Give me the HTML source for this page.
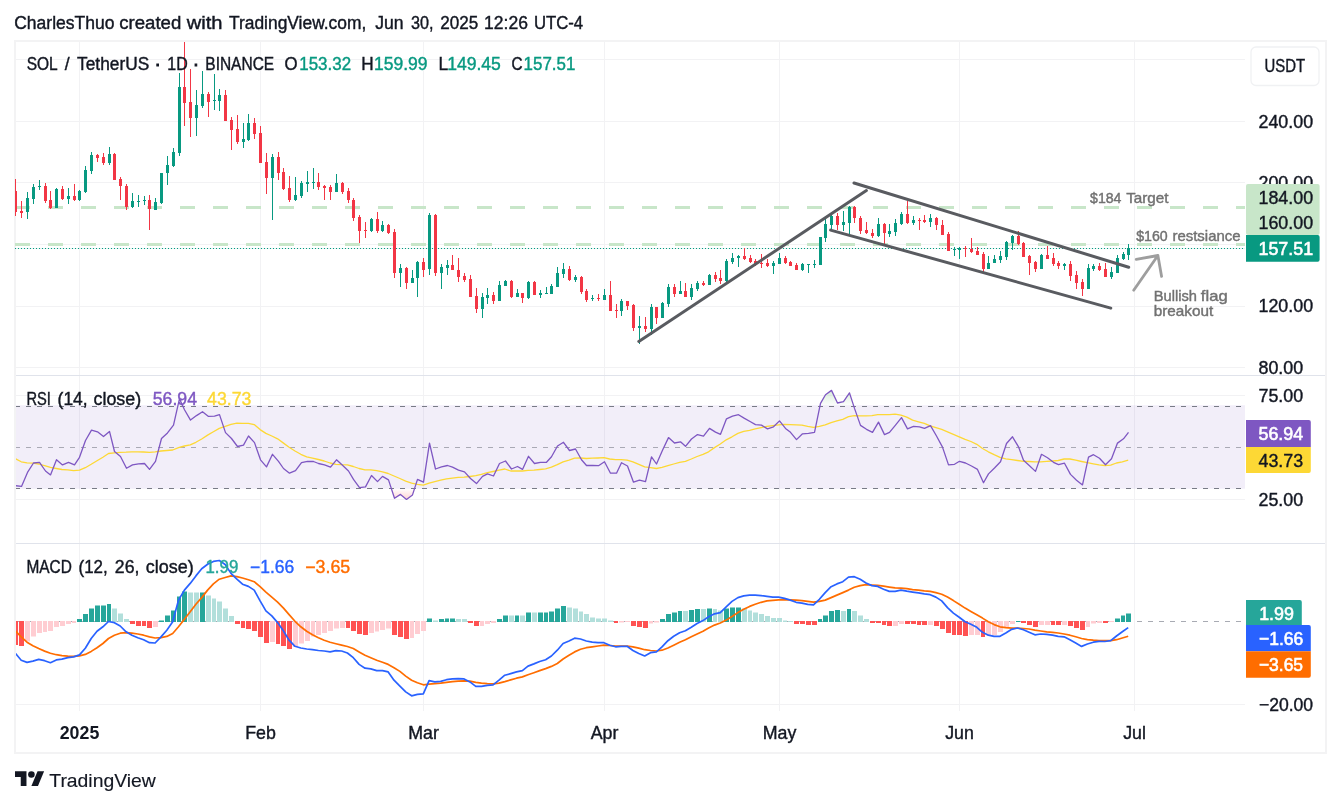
<!DOCTYPE html>
<html lang="en"><head><meta charset="utf-8"><title>SOL / TetherUS chart</title>
<style>html,body{margin:0;padding:0;background:#fff}body{width:1341px;height:806px;overflow:hidden}svg{display:block}</style>
</head><body>
<svg width="1341" height="806" viewBox="0 0 1341 806" font-family='"Liberation Sans", "DejaVu Sans", sans-serif'>
<defs><clipPath id="cm"><rect x="15" y="42" width="1230" height="333"/></clipPath><clipPath id="cr"><rect x="16" y="376" width="1229" height="167"/></clipPath><clipPath id="cd"><rect x="16" y="544" width="1229" height="167"/></clipPath><clipPath id="c200"><rect x="1246" y="170" width="79" height="14"/></clipPath><linearGradient id="gob" x1="0" y1="0" x2="0" y2="1"><stop offset="0" stop-color="#4caf50" stop-opacity="0.22"/><stop offset="1" stop-color="#4caf50" stop-opacity="0"/></linearGradient><linearGradient id="gos" x1="0" y1="0" x2="0" y2="1"><stop offset="0" stop-color="#ff5252" stop-opacity="0"/><stop offset="1" stop-color="#ff5252" stop-opacity="0.25"/></linearGradient></defs>
<rect width="1341" height="806" fill="#fff"/>
<rect x="15" y="41" width="1311" height="712" fill="none" stroke="#f3f3f4" stroke-width="2"/>
<path d="M79.5 42V711 M260.5 42V711 M423.5 42V711 M604.5 42V711 M779.5 42V711 M959.5 42V711 M1134.5 42V711 M16 59.5H1245 M16 121.5H1245 M16 182.5H1245 M16 244.5H1245 M16 306.5H1245 M16 367.5H1245 M16 395.5H1245 M16 499.5H1245 M16 704.5H1245" stroke="#f2f2f4" stroke-width="1" fill="none"/>
<path d="M16 375.5H1325M16 543.5H1325" stroke="#e0e3eb" stroke-width="1" fill="none"/>
<g clip-path="url(#cm)">
<path d="M15 207.5H1245" stroke="#c8e6c9" stroke-width="3" stroke-dasharray="15 18" fill="none"/>
<path d="M15 244.5H1245" stroke="#c8e6c9" stroke-width="3" stroke-dasharray="15 18" fill="none"/>
<path d="M14.9 248.5H1245" stroke="#089981" stroke-width="1.15" stroke-dasharray="1.2 1.8" fill="none"/>
<path d="M27 192h1V219h-1zM33 184h1V204h-1zM39 180h1V190h-1zM56 188h1V208h-1zM68 188h1V204h-1zM79 190h1V201h-1zM85 166h1V193h-1zM91 152h1V174h-1zM109 147h1V165h-1zM132 193h1V208h-1zM138 195h1V207h-1zM144 196h1V205h-1zM155 198h1V210h-1zM161 173h1V204h-1zM167 156h1V185h-1zM173 148h1V167h-1zM179 73h1V156h-1zM196 90h1V136h-1zM202 71h1V108h-1zM214 74h1V110h-1zM219 89h1V111h-1zM243 123h1V148h-1zM248 114h1V141h-1zM272 154h1V220h-1zM295 177h1V201h-1zM301 181h1V198h-1zM307 171h1V192h-1zM313 168h1V189h-1zM336 174h1V192h-1zM371 218h1V232h-1zM382 221h1V232h-1zM400 264h1V287h-1zM412 270h1V283h-1zM417 261h1V297h-1zM429 213h1V275h-1zM441 264h1V289h-1zM447 260h1V275h-1zM482 293h1V318h-1zM487 288h1V304h-1zM499 281h1V301h-1zM505 280h1V286h-1zM517 289h1V297h-1zM528 281h1V299h-1zM540 290h1V298h-1zM546 287h1V294h-1zM551 284h1V294h-1zM557 267h1V287h-1zM563 263h1V278h-1zM575 275h1V282h-1zM592 295h1V301h-1zM604 289h1V300h-1zM621 299h1V316h-1zM639 316h1V344h-1zM651 304h1V335h-1zM662 302h1V318h-1zM668 284h1V307h-1zM680 281h1V294h-1zM691 284h1V300h-1zM697 281h1V291h-1zM709 274h1V285h-1zM726 259h1V283h-1zM732 253h1V264h-1zM738 255h1V267h-1zM773 261h1V274h-1zM779 253h1V264h-1zM802 263h1V271h-1zM808 264h1V273h-1zM814 260h1V268h-1zM820 237h1V265h-1zM825 219h1V242h-1zM831 215h1V230h-1zM843 211h1V231h-1zM849 206h1V234h-1zM878 218h1V237h-1zM889 224h1V237h-1zM895 219h1V236h-1zM901 212h1V225h-1zM913 216h1V225h-1zM930 214h1V227h-1zM954 247h1V256h-1zM959 247h1V259h-1zM988 256h1V269h-1zM994 255h1V263h-1zM1000 251h1V263h-1zM1006 241h1V260h-1zM1012 235h1V250h-1zM1041 254h1V269h-1zM1064 263h1V270h-1zM1088 264h1V289h-1zM1093 264h1V271h-1zM1111 267h1V279h-1zM1117 255h1V273h-1zM1123 252h1V260h-1zM1128 244h1V260h-1zM26 198h3V212h-3zM32 187h3V199h-3zM38 186h3V187h-3zM55 189h3V208h-3zM67 196h3V199h-3zM78 191h3V200h-3zM84 170h3V192h-3zM90 155h3V171h-3zM108 154h3V163h-3zM131 201h3V207h-3zM137 201h3V202h-3zM143 200h3V201h-3zM154 202h3V210h-3zM160 173h3V203h-3zM166 165h3V173h-3zM172 152h3V166h-3zM178 87h3V153h-3zM195 105h3V118h-3zM201 94h3V106h-3zM213 100h3V101h-3zM218 95h3V101h-3zM242 139h3V142h-3zM247 123h3V140h-3zM271 157h3V178h-3zM294 195h3V200h-3zM300 183h3V196h-3zM306 182h3V184h-3zM312 182h3V183h-3zM335 183h3V192h-3zM370 219h3V231h-3zM381 225h3V231h-3zM399 268h3V273h-3zM411 278h3V283h-3zM416 262h3V278h-3zM428 215h3V269h-3zM440 267h3V273h-3zM446 265h3V268h-3zM481 297h3V309h-3zM486 295h3V298h-3zM498 285h3V301h-3zM504 281h3V286h-3zM516 293h3V297h-3zM527 282h3V298h-3zM539 293h3V295h-3zM545 293h3V294h-3zM550 286h3V294h-3zM556 273h3V287h-3zM562 269h3V274h-3zM574 277h3V280h-3zM591 298h3V299h-3zM603 295h3V300h-3zM620 301h3V311h-3zM638 326h3V328h-3zM650 307h3V329h-3zM661 303h3V318h-3zM667 287h3V304h-3zM679 291h3V294h-3zM690 288h3V297h-3zM696 283h3V289h-3zM708 275h3V285h-3zM725 261h3V281h-3zM731 258h3V262h-3zM737 256h3V258h-3zM772 263h3V266h-3zM778 258h3V264h-3zM801 264h3V270h-3zM807 264h3V265h-3zM813 264h3V265h-3zM819 237h3V265h-3zM824 224h3V238h-3zM830 216h3V225h-3zM842 222h3V225h-3zM848 207h3V223h-3zM877 224h3V236h-3zM888 231h3V234h-3zM894 223h3V232h-3zM900 214h3V224h-3zM912 220h3V223h-3zM929 218h3V222h-3zM953 249h3V250h-3zM958 248h3V250h-3zM987 263h3V269h-3zM993 259h3V263h-3zM999 256h3V260h-3zM1005 242h3V257h-3zM1011 236h3V243h-3zM1040 255h3V269h-3zM1063 264h3V266h-3zM1087 268h3V289h-3zM1092 266h3V269h-3zM1110 272h3V277h-3zM1116 258h3V273h-3zM1122 254h3V259h-3zM1127 248h3V255h-3z" fill="#089981"/>
<path d="M15 179h1V216h-1zM21 201h1V218h-1zM45 183h1V203h-1zM50 191h1V209h-1zM62 186h1V200h-1zM74 184h1V201h-1zM97 154h1V162h-1zM103 153h1V165h-1zM114 153h1V180h-1zM120 177h1V200h-1zM126 184h1V210h-1zM149 195h1V230h-1zM184 34h1V126h-1zM190 69h1V137h-1zM208 92h1V117h-1zM225 90h1V121h-1zM231 117h1V150h-1zM237 115h1V144h-1zM254 118h1V139h-1zM260 126h1V163h-1zM266 153h1V194h-1zM278 152h1V180h-1zM283 168h1V190h-1zM289 176h1V202h-1zM318 173h1V190h-1zM324 185h1V200h-1zM330 185h1V200h-1zM342 182h1V194h-1zM348 188h1V203h-1zM353 198h1V221h-1zM359 215h1V243h-1zM365 222h1V238h-1zM377 212h1V233h-1zM388 224h1V234h-1zM394 229h1V278h-1zM406 267h1V289h-1zM423 258h1V277h-1zM435 214h1V276h-1zM452 255h1V270h-1zM458 258h1V282h-1zM464 273h1V282h-1zM470 275h1V297h-1zM476 288h1V313h-1zM493 292h1V304h-1zM511 280h1V298h-1zM522 293h1V303h-1zM534 281h1V295h-1zM569 266h1V281h-1zM581 276h1V294h-1zM586 289h1V302h-1zM598 294h1V301h-1zM610 281h1V311h-1zM616 304h1V318h-1zM627 301h1V310h-1zM633 304h1V331h-1zM645 317h1V332h-1zM656 307h1V324h-1zM674 284h1V297h-1zM685 283h1V297h-1zM703 281h1V286h-1zM715 272h1V282h-1zM720 270h1V284h-1zM744 248h1V260h-1zM750 255h1V263h-1zM755 259h1V266h-1zM761 254h1V268h-1zM767 259h1V267h-1zM785 256h1V264h-1zM790 261h1V266h-1zM796 263h1V270h-1zM837 213h1V230h-1zM854 206h1V223h-1zM860 216h1V234h-1zM866 222h1V234h-1zM872 229h1V238h-1zM884 223h1V245h-1zM907 201h1V224h-1zM919 218h1V230h-1zM924 215h1V223h-1zM936 217h1V230h-1zM942 220h1V235h-1zM948 232h1V251h-1zM965 246h1V257h-1zM971 238h1V253h-1zM977 247h1V255h-1zM983 252h1V272h-1zM1018 231h1V245h-1zM1023 242h1V257h-1zM1029 255h1V275h-1zM1035 261h1V272h-1zM1047 246h1V259h-1zM1053 253h1V266h-1zM1058 261h1V269h-1zM1070 261h1V281h-1zM1076 271h1V289h-1zM1082 279h1V296h-1zM1099 263h1V271h-1zM1105 263h1V277h-1zM14 191h3V212h-3zM20 211h3V213h-3zM44 186h3V201h-3zM49 200h3V208h-3zM61 189h3V199h-3zM73 196h3V200h-3zM96 155h3V158h-3zM102 157h3V163h-3zM113 154h3V180h-3zM119 179h3V186h-3zM125 186h3V207h-3zM148 200h3V209h-3zM183 87h3V103h-3zM189 102h3V118h-3zM207 94h3V102h-3zM224 95h3V121h-3zM230 120h3V130h-3zM236 129h3V142h-3zM253 123h3V134h-3zM259 133h3V163h-3zM265 162h3V178h-3zM277 157h3V173h-3zM282 172h3V189h-3zM288 188h3V200h-3zM317 182h3V187h-3zM323 186h3V188h-3zM329 187h3V192h-3zM341 183h3V192h-3zM347 191h3V200h-3zM352 200h3V218h-3zM358 217h3V231h-3zM364 230h3V231h-3zM376 219h3V231h-3zM387 225h3V233h-3zM393 232h3V273h-3zM405 268h3V283h-3zM422 262h3V270h-3zM434 215h3V273h-3zM451 265h3V270h-3zM457 270h3V277h-3zM463 276h3V280h-3zM469 279h3V297h-3zM475 296h3V309h-3zM492 295h3V301h-3zM510 281h3V297h-3zM521 293h3V298h-3zM533 282h3V295h-3zM568 269h3V280h-3zM580 277h3V292h-3zM585 291h3V300h-3zM597 298h3V299h-3zM609 295h3V311h-3zM615 310h3V311h-3zM626 301h3V306h-3zM632 305h3V328h-3zM644 326h3V329h-3zM655 307h3V318h-3zM673 287h3V294h-3zM684 291h3V297h-3zM702 283h3V285h-3zM714 275h3V279h-3zM719 278h3V281h-3zM743 256h3V259h-3zM749 258h3V262h-3zM754 261h3V265h-3zM760 263h3V264h-3zM766 263h3V266h-3zM784 258h3V263h-3zM789 262h3V266h-3zM795 265h3V270h-3zM836 216h3V225h-3zM853 207h3V218h-3zM859 218h3V231h-3zM865 230h3V233h-3zM871 233h3V236h-3zM883 224h3V233h-3zM906 214h3V223h-3zM918 220h3V221h-3zM923 220h3V222h-3zM935 218h3V225h-3zM941 225h3V235h-3zM947 234h3V251h-3zM964 248h3V249h-3zM970 249h3V252h-3zM976 251h3V255h-3zM982 254h3V269h-3zM1017 236h3V244h-3zM1022 243h3V257h-3zM1028 256h3V263h-3zM1034 262h3V269h-3zM1046 255h3V259h-3zM1052 258h3V264h-3zM1057 263h3V266h-3zM1069 264h3V276h-3zM1075 275h3V283h-3zM1081 282h3V289h-3zM1098 266h3V270h-3zM1104 269h3V277h-3z" fill="#f23645"/>
<path d="M638.8 341.4L866.4 190.6M854 183L1128.7 267.2M830.6 230.1L1110.8 308.1" stroke="#595b60" stroke-width="3" stroke-linecap="round" fill="none"/>
<path d="M1133.7 290.2L1157.9 255.5M1136.2 259.3L1157.9 255.5L1161.6 276.4" stroke="#9e9e9e" stroke-width="2.8" stroke-linecap="round" stroke-linejoin="round" fill="none"/>
</g>
<g clip-path="url(#cr)">
<rect x="16" y="405.2" width="1229" height="83.6" fill="#7e57c2" fill-opacity="0.1"/>
<path d="M15 406.5H1245M15 488.5H1245" stroke="#787b86" stroke-width="1" stroke-dasharray="5 6" fill="none"/>
<path d="M15 447.5H1245" stroke="#787b86" stroke-opacity="0.6" stroke-width="1" stroke-dasharray="5 6" fill="none"/>
<path d="M177.7 406.5L179.5 398.7L183.0 406.5z" fill="url(#gob)"/>
<path d="M819.9 406.5L820.5 403.4L825.5 394.7L831.5 390.4L837.5 403.0L843.5 401.7L849.5 392.9L853.9 406.5z" fill="url(#gob)"/>
<path d="M391.3 488.5L394.5 498.3L400.5 494.4L406.5 499.4L412.5 494.9L414.6 488.5z" fill="url(#gos)"/>
<path d="M15.3 458.5L21.2 461.8L27.0 462.8L32.9 463.2L38.7 464.0L44.6 465.7L50.4 467.4L56.3 468.5L61.9 469.5L67.8 469.9L73.6 470.7L79.5 470.2L85.3 467.7L91.2 464.3L97.0 460.7L102.9 457.2L108.5 453.5L114.4 452.8L120.2 452.3L126.1 452.2L131.9 451.8L137.8 451.8L143.6 452.0L149.5 452.3L155.1 451.8L161.0 451.0L166.8 450.5L172.7 450.0L178.5 447.6L184.4 446.0L190.2 444.8L195.9 442.3L201.7 439.0L207.6 435.1L213.4 431.8L219.3 428.4L225.2 426.4L231.0 424.3L236.9 423.1L242.5 423.4L248.4 423.4L254.2 424.6L260.1 429.6L265.9 433.4L271.8 436.0L277.6 438.8L283.5 443.1L289.1 447.3L295.0 451.0L300.8 454.3L306.7 456.8L312.5 458.2L318.4 459.5L324.2 461.0L330.1 463.0L335.9 464.3L341.6 464.7L347.4 464.9L353.3 466.5L359.1 468.5L365.0 469.9L370.8 469.9L376.7 470.7L382.5 471.9L388.2 473.5L394.0 476.0L399.9 478.5L405.7 481.1L411.6 483.1L417.4 484.4L423.3 485.2L429.1 483.2L434.8 481.6L440.7 480.2L446.5 478.9L452.4 478.2L458.2 477.4L464.1 477.2L469.9 476.5L475.8 475.7L481.4 474.4L487.3 472.7L493.1 471.5L499.0 470.2L504.8 469.0L510.7 471.0L516.5 471.0L522.4 471.0L528.0 470.4L533.9 470.2L539.7 469.5L545.6 468.9L551.4 467.2L557.3 464.7L563.1 461.8L569.0 460.2L574.6 458.2L580.5 458.0L586.3 458.5L592.2 458.2L598.0 458.0L603.9 457.7L609.7 459.0L615.6 459.7L621.2 459.7L627.1 460.2L632.9 461.8L638.8 464.3L644.7 466.9L650.5 467.7L656.4 468.5L662.0 467.4L667.9 465.7L673.7 464.0L679.6 462.3L685.4 461.3L691.3 459.0L697.1 456.5L703.0 454.3L708.6 451.8L714.5 447.6L720.3 444.0L726.2 439.8L732.0 436.8L737.9 433.4L743.7 431.4L749.6 430.4L755.2 428.9L761.1 427.6L766.9 426.4L772.8 425.6L778.6 424.8L784.5 424.3L790.3 424.6L796.2 424.8L801.9 425.1L807.7 426.4L813.5 427.3L819.4 426.4L825.2 424.8L831.1 422.6L836.9 420.9L842.8 419.3L848.5 416.7L854.3 415.6L860.2 415.9L866.0 415.9L871.9 415.7L877.7 414.7L883.6 414.7L889.3 414.7L895.1 414.2L900.9 415.1L906.8 417.1L912.6 420.1L918.5 421.8L924.3 423.4L930.2 425.9L935.9 427.6L941.7 429.3L947.5 431.8L953.4 434.3L959.2 436.8L965.1 439.3L970.9 441.5L976.8 444.3L982.5 448.5L988.3 451.8L994.1 454.7L1000.0 457.3L1005.8 458.8L1011.7 459.7L1017.5 460.5L1023.4 461.3L1029.1 461.5L1034.9 461.8L1040.8 461.8L1046.7 461.3L1052.5 461.0L1058.2 460.5L1064.1 459.0L1069.9 459.0L1075.7 460.2L1081.6 461.5L1087.4 462.7L1093.3 463.8L1099.0 464.9L1104.8 465.5L1110.7 465.2L1116.5 463.0L1122.3 461.8L1128.2 460.2" stroke="#fdd835" stroke-width="1.3" stroke-linejoin="round" fill="none"/>
<path d="M15.5 485.7L21.5 486.4L27.5 472.4L33.5 463.0L39.5 462.3L45.5 471.0L50.5 474.9L56.5 459.7L62.5 464.9L68.5 462.3L74.5 464.9L79.5 457.3L85.5 440.5L91.5 430.1L97.5 431.8L103.5 436.5L109.5 431.4L114.5 451.5L120.5 456.5L126.5 468.2L132.5 464.9L138.5 463.8L144.5 463.5L149.5 469.4L155.5 461.3L161.5 438.5L167.5 432.9L173.5 425.1L179.5 398.7L184.5 409.7L190.5 420.1L196.5 415.6L202.5 411.7L208.5 416.4L214.5 416.2L219.5 414.6L225.5 432.6L231.5 438.5L237.5 446.5L243.5 445.1L248.5 436.0L254.5 442.6L260.5 459.8L266.5 466.9L272.5 454.3L278.5 461.3L283.5 468.5L289.5 473.2L295.5 470.7L301.5 462.7L307.5 461.3L313.5 461.5L318.5 463.5L324.5 464.9L330.5 467.2L336.5 459.8L342.5 465.2L348.5 471.0L353.5 479.4L359.5 487.7L365.5 486.9L371.5 475.5L377.5 481.6L382.5 476.4L388.5 479.9L394.5 498.3L400.5 494.4L406.5 499.4L412.5 494.9L417.5 479.4L423.5 482.2L429.5 443.1L435.5 469.0L441.5 466.9L447.5 465.5L452.5 467.2L458.5 470.2L464.5 471.9L470.5 478.5L476.5 483.6L482.5 476.4L487.5 473.9L493.5 476.0L499.5 463.5L505.5 461.0L511.5 469.0L517.5 466.5L522.5 469.4L528.5 456.3L534.5 463.5L540.5 462.3L546.5 462.3L551.5 456.8L557.5 446.0L563.5 442.3L569.5 450.5L575.5 449.0L581.5 459.8L586.5 465.5L592.5 465.5L598.5 465.7L604.5 461.8L610.5 473.2L616.5 473.2L621.5 462.7L627.5 466.0L633.5 482.2L639.5 480.2L645.5 481.6L651.5 456.8L656.5 464.0L662.5 450.2L668.5 437.6L674.5 443.0L680.5 441.8L685.5 446.3L691.5 439.0L697.5 434.6L703.5 436.1L709.5 428.4L715.5 432.1L720.5 434.3L726.5 418.8L732.5 416.2L738.5 414.7L744.5 418.4L750.5 421.8L755.5 424.6L761.5 425.1L767.5 428.9L773.5 426.8L779.5 420.9L785.5 428.4L790.5 432.3L796.5 439.6L802.5 433.8L808.5 433.4L814.5 432.3L820.5 403.4L825.5 394.7L831.5 390.4L837.5 403.0L843.5 401.7L849.5 392.9L854.5 408.4L860.5 425.4L866.5 429.3L872.5 432.3L878.5 422.1L884.5 434.6L889.5 432.3L895.5 425.1L901.5 417.6L907.5 428.9L913.5 426.3L919.5 426.8L924.5 428.4L930.5 425.6L936.5 436.0L942.5 447.1L948.5 464.9L954.5 464.3L959.5 461.3L965.5 463.0L971.5 466.0L977.5 469.4L983.5 482.7L988.5 473.9L994.5 468.0L1000.5 461.8L1006.5 443.5L1012.5 436.8L1018.5 446.8L1023.5 460.2L1029.5 465.7L1035.5 471.4L1041.5 454.3L1047.5 457.7L1053.5 462.3L1058.5 464.7L1064.5 463.2L1070.5 474.4L1076.5 480.2L1082.5 484.9L1088.5 457.2L1093.5 454.7L1099.5 458.2L1105.5 464.7L1111.5 458.8L1117.5 443.1L1123.5 438.8L1128.5 432.3" stroke="#7e57c2" stroke-width="1.3" stroke-linejoin="round" fill="none"/>
</g>
<g clip-path="url(#cd)">
<path d="M15 621.5H1245" stroke="#a8abb3" stroke-width="1" stroke-dasharray="5 6" fill="none"/>
<path d="M77 619.0H82V622.0H77zM83 614.0H88V622.0H83zM89 608.5H94V622.0H89zM95 605.5H100V622.0H95zM101 605.5H106V622.0H101zM107 604.0H111V622.0H107zM159 620.5H164V622.0H159zM165 615.5H170V622.0H165zM171 610.5H176V622.0H171zM177 596.5H181V622.0H177zM182 591.5H187V622.0H182zM200 592.5H205V622.0H200zM427 618.5H432V622.0H427zM439 619.0H444V622.0H439zM445 618.5H449V622.0H445zM450 618.5H455V622.0H450zM497 619.0H502V622.0H497zM503 615.5H508V622.0H503zM515 615.5H519V622.0H515zM526 612.5H531V622.0H526zM538 612.5H543V622.0H538zM544 612.5H548V622.0H544zM549 611.5H554V622.0H549zM555 608.5H560V622.0H555zM561 606.0H566V622.0H561zM660 619.0H665V622.0H660zM666 614.0H671V622.0H666zM672 612.5H677V622.0H672zM678 611.0H682V622.0H678zM689 610.0H694V622.0H689zM695 609.0H700V622.0H695zM707 608.5H712V622.0H707zM724 608.5H729V622.0H724zM730 607.5H735V622.0H730zM736 607.5H741V622.0H736zM818 619.0H822V622.0H818zM823 615.5H828V622.0H823zM829 611.0H834V622.0H829zM835 610.0H840V622.0H835zM847 609.0H851V622.0H847zM1016 621.0H1020V622.0H1016zM1115 618.5H1120V622.0H1115zM1121 615.5H1125V622.0H1121zM1126 613.5H1131V622.0H1126z" fill="#26a69a"/>
<path d="M112 608.5H117V622.0H112zM118 613.5H123V622.0H118zM124 619.0H129V622.0H124zM188 592.5H193V622.0H188zM194 592.5H199V622.0H194zM206 595.5H211V622.0H206zM212 598.5H216V622.0H212zM217 601.5H222V622.0H217zM223 608.5H228V622.0H223zM229 616.0H234V622.0H229zM433 620.5H438V622.0H433zM456 619.0H461V622.0H456zM462 619.0H467V622.0H462zM509 615.5H514V622.0H509zM520 615.5H525V622.0H520zM532 612.5H537V622.0H532zM567 607.5H572V622.0H567zM573 608.5H578V622.0H573zM579 611.5H583V622.0H579zM584 614.0H589V622.0H584zM590 617.5H595V622.0H590zM596 618.5H601V622.0H596zM602 618.5H607V622.0H602zM608 620.5H613V622.0H608zM683 611.0H688V622.0H683zM701 609.0H706V622.0H701zM713 609.0H717V622.0H713zM718 610.5H723V622.0H718zM742 608.5H747V622.0H742zM748 610.5H752V622.0H748zM753 612.5H758V622.0H753zM759 614.0H764V622.0H759zM765 616.0H770V622.0H765zM771 618.0H776V622.0H771zM777 618.0H782V622.0H777zM783 620.5H787V622.0H783zM788 621.0H793V622.0H788zM841 611.0H846V622.0H841zM852 611.0H857V622.0H852zM858 615.5H863V622.0H858zM864 619.0H869V622.0H864z" fill="#b2dfdb"/>
<path d="M13 621.0H18V645.0H13zM19 621.0H24V646.0H19zM130 621.0H135V624.0H130zM136 621.0H141V626.0H136zM142 621.0H146V626.0H142zM147 621.0H152V628.0H147zM235 621.0H240V624.0H235zM241 621.0H245V628.0H241zM246 621.0H251V629.0H246zM252 621.0H257V631.0H252zM258 621.0H263V637.0H258zM264 621.0H269V643.0H264zM276 621.0H280V644.0H276zM281 621.0H286V646.0H281zM287 621.0H292V649.0H287zM346 621.0H350V628.0H346zM351 621.0H356V631.0H351zM357 621.0H362V634.0H357zM363 621.0H368V635.0H363zM392 621.0H397V635.0H392zM398 621.0H403V637.0H398zM404 621.0H409V639.0H404zM468 621.0H473V623.0H468zM474 621.0H479V626.0H474zM614 621.0H618V623.0H614zM631 621.0H636V626.0H631zM637 621.0H642V627.0H637zM643 621.0H648V628.0H643zM794 621.0H799V624.0H794zM800 621.0H805V624.0H800zM806 621.0H811V625.0H806zM812 621.0H817V625.0H812zM870 621.0H875V623.0H870zM876 621.0H881V623.0H876zM882 621.0H886V625.0H882zM887 621.0H892V626.0H887zM905 621.0H910V624.0H905zM911 621.0H916V624.0H911zM917 621.0H921V625.0H917zM922 621.0H927V625.0H922zM934 621.0H939V626.0H934zM940 621.0H945V629.0H940zM946 621.0H951V633.0H946zM952 621.0H956V635.0H952zM957 621.0H962V635.0H957zM963 621.0H968V636.0H963zM981 621.0H985V637.0H981zM1021 621.0H1026V623.0H1021zM1027 621.0H1032V625.0H1027zM1033 621.0H1038V627.0H1033zM1051 621.0H1055V625.0H1051zM1056 621.0H1061V625.0H1056zM1068 621.0H1073V626.0H1068zM1074 621.0H1079V628.0H1074zM1080 621.0H1085V630.0H1080zM1103 621.0H1108V623.0H1103z" fill="#ff5252"/>
<path d="M25 621.0H30V641.5H25zM31 621.0H36V636.5H31zM37 621.0H42V633.0H37zM43 621.0H47V632.0H43zM48 621.0H53V631.0H48zM54 621.0H59V627.0H54zM60 621.0H65V626.0H60zM66 621.0H71V624.0H66zM72 621.0H76V623.0H72zM153 621.0H158V627.0H153zM270 621.0H275V642.0H270zM293 621.0H298V647.0H293zM299 621.0H304V643.5H299zM305 621.0H310V641.0H305zM311 621.0H315V636.5H311zM316 621.0H321V635.0H316zM322 621.0H327V633.0H322zM328 621.0H333V631.0H328zM334 621.0H339V628.5H334zM340 621.0H345V628.0H340zM369 621.0H374V633.0H369zM375 621.0H379V631.5H375zM380 621.0H385V630.0H380zM386 621.0H391V628.5H386zM410 621.0H414V638.0H410zM415 621.0H420V634.0H415zM421 621.0H426V631.0H421zM480 621.0H484V626.0H480zM485 621.0H490V624.0H485zM491 621.0H496V623.0H491zM619 621.0H624V622.5H619zM625 621.0H630V622.0H625zM649 621.0H653V623.5H649zM654 621.0H659V622.5H654zM893 621.0H898V626.0H893zM899 621.0H904V624.0H899zM928 621.0H933V625.0H928zM969 621.0H974V635.0H969zM975 621.0H980V635.0H975zM986 621.0H991V635.0H986zM992 621.0H997V635.0H992zM998 621.0H1003V632.0H998zM1004 621.0H1009V627.0H1004zM1010 621.0H1015V624.0H1010zM1039 621.0H1044V625.0H1039zM1045 621.0H1050V625.0H1045zM1062 621.0H1067V625.0H1062zM1086 621.0H1090V627.0H1086zM1091 621.0H1096V623.5H1091zM1097 621.0H1102V623.0H1097zM1109 621.0H1114V622.0H1109z" fill="#ffcdd2"/>
<path d="M15.3 630.7L21.2 636.9L27.0 642.2L32.9 645.7L38.7 648.5L44.6 651.1L50.4 653.2L56.3 654.7L61.9 655.7L67.8 656.2L73.6 656.4L79.5 655.9L85.3 654.4L91.2 651.4L97.0 647.7L102.9 643.5L108.5 638.5L114.4 635.2L120.2 633.2L126.1 632.7L131.9 633.2L137.8 634.0L143.6 635.2L149.5 636.9L155.1 638.0L161.0 637.7L166.8 636.4L172.7 633.5L178.5 626.8L184.4 619.3L190.2 611.8L195.9 604.3L201.7 597.6L207.6 590.1L213.4 583.9L219.3 579.2L225.2 577.5L231.0 575.9L236.9 576.7L242.5 578.0L248.4 579.7L254.2 581.7L260.1 586.7L265.9 592.1L271.8 597.1L277.6 602.1L283.5 608.1L289.1 614.6L295.0 621.3L300.8 626.8L306.7 631.3L312.5 634.8L318.4 637.7L324.2 640.2L330.1 642.3L335.9 643.8L341.6 645.2L347.4 646.5L353.3 648.5L359.1 651.9L365.0 655.2L370.8 657.7L376.7 660.2L382.5 662.2L388.2 664.4L394.0 667.7L399.9 671.4L405.7 676.1L411.6 680.2L417.4 682.8L423.3 684.8L429.1 684.1L434.8 683.6L440.7 683.1L446.5 682.3L452.4 681.6L458.2 681.1L464.1 680.8L469.9 681.1L475.8 682.3L481.4 683.1L487.3 683.6L493.1 683.9L499.0 683.1L504.8 681.6L510.7 679.9L516.5 678.2L522.4 676.9L528.0 674.7L533.9 672.7L539.7 670.6L545.6 668.6L551.4 666.4L557.3 663.5L563.1 659.0L569.0 655.2L574.6 651.9L580.5 649.3L586.3 647.7L592.2 646.8L598.0 646.0L603.9 645.2L609.7 645.5L615.6 646.0L621.2 646.0L627.1 646.0L632.9 646.8L638.8 648.2L644.7 649.7L650.5 650.5L656.4 651.0L662.0 650.2L667.9 648.0L673.7 645.2L679.6 642.3L685.4 639.8L691.3 636.8L697.1 634.0L703.0 631.3L708.6 628.1L714.5 625.1L720.3 623.0L726.2 620.1L732.0 616.5L737.9 612.6L743.7 609.3L749.6 606.4L755.2 604.3L761.1 602.3L766.9 600.9L772.8 600.3L778.6 599.8L784.5 599.6L790.3 599.8L796.2 600.1L801.9 600.6L807.7 601.3L813.5 602.1L819.4 601.4L825.2 600.1L831.1 597.6L836.9 595.1L842.8 592.6L848.5 590.1L854.3 587.2L860.2 585.6L866.0 584.7L871.9 585.1L877.7 585.4L883.6 586.2L889.3 587.1L895.1 587.9L900.9 588.1L906.8 588.7L912.6 589.6L918.5 590.1L924.3 590.9L930.2 591.4L935.9 592.6L941.7 594.2L947.5 597.1L953.4 600.6L959.2 604.3L965.1 608.1L970.9 611.4L976.8 614.8L982.5 618.1L988.3 621.8L994.1 624.6L1000.0 626.8L1005.8 627.6L1011.7 628.1L1017.5 628.1L1023.4 628.5L1029.1 629.0L1034.9 630.2L1040.8 631.0L1046.7 631.8L1052.5 632.3L1058.2 633.0L1064.1 634.0L1069.9 635.2L1075.7 636.8L1081.6 638.5L1087.4 639.7L1093.3 640.2L1099.0 640.5L1104.8 640.7L1110.7 640.7L1116.5 639.7L1122.3 638.0L1128.2 636.3" stroke="#ff6d00" stroke-width="1.7" stroke-linejoin="round" fill="none"/>
<path d="M15.3 653.2L21.2 660.2L27.0 662.4L32.9 661.1L38.7 659.4L44.6 660.7L50.4 662.7L56.3 659.9L61.9 659.1L67.8 657.7L73.6 656.9L79.5 654.9L85.3 648.2L91.2 638.5L97.0 631.3L102.9 626.8L108.5 621.5L114.4 622.7L120.2 626.0L126.1 631.8L131.9 635.2L137.8 637.7L143.6 639.7L149.5 642.7L155.1 643.0L161.0 636.9L166.8 630.2L172.7 621.8L178.5 600.1L184.4 590.1L190.2 583.4L195.9 575.9L201.7 568.7L207.6 564.2L213.4 561.4L219.3 560.5L225.2 564.5L231.0 573.4L236.9 579.2L242.5 584.2L248.4 586.4L254.2 590.1L260.1 600.9L265.9 610.9L271.8 615.9L277.6 622.6L283.5 631.0L289.1 640.2L295.0 646.3L300.8 648.0L306.7 649.0L312.5 649.7L318.4 650.5L324.2 651.0L330.1 651.9L335.9 650.7L341.6 651.0L347.4 653.0L353.3 657.7L359.1 664.4L365.0 668.2L370.8 668.9L376.7 670.6L382.5 670.7L388.2 671.9L394.0 680.2L399.9 686.1L405.7 691.9L411.6 695.8L417.4 694.4L423.3 693.9L429.1 680.6L434.8 681.9L440.7 681.4L446.5 679.7L452.4 678.9L458.2 678.6L464.1 678.9L469.9 681.9L475.8 686.4L481.4 686.4L487.3 685.3L493.1 684.8L499.0 680.2L504.8 675.2L510.7 673.6L516.5 671.9L522.4 670.7L528.0 666.1L533.9 663.9L539.7 661.5L545.6 659.7L551.4 656.0L557.3 650.2L563.1 643.5L569.0 641.0L574.6 638.2L580.5 639.0L586.3 641.0L592.2 642.2L598.0 642.7L603.9 642.7L609.7 645.2L615.6 646.8L621.2 646.3L627.1 646.3L632.9 650.5L638.8 653.5L644.7 656.0L650.5 652.7L656.4 651.9L662.0 646.9L667.9 640.7L673.7 636.3L679.6 632.7L685.4 630.7L691.3 627.3L697.1 623.5L703.0 620.6L708.6 616.8L714.5 613.8L720.3 612.6L726.2 606.8L732.0 601.4L737.9 597.6L743.7 595.9L749.6 595.1L755.2 595.1L761.1 595.6L766.9 596.4L772.8 597.1L778.6 597.1L784.5 598.4L790.3 600.1L796.2 602.3L801.9 603.1L807.7 604.3L813.5 604.8L819.4 599.3L825.2 592.6L831.1 586.7L836.9 583.9L842.8 581.7L848.5 577.2L854.3 576.7L860.2 579.2L866.0 583.0L871.9 585.6L877.7 586.4L883.6 589.2L889.3 591.4L895.1 591.4L900.9 590.1L906.8 591.2L912.6 592.1L918.5 592.9L924.3 593.9L930.2 594.7L935.9 597.1L941.7 600.9L947.5 607.6L953.4 613.1L959.2 617.3L965.1 621.8L970.9 624.3L976.8 627.3L982.5 632.3L988.3 635.2L994.1 636.3L1000.0 636.3L1005.8 633.0L1011.7 629.3L1017.5 628.0L1023.4 629.8L1029.1 632.3L1034.9 634.8L1040.8 634.0L1046.7 634.3L1052.5 635.2L1058.2 636.3L1064.1 636.8L1069.9 639.7L1075.7 643.0L1081.6 646.4L1087.4 644.0L1093.3 642.2L1099.0 641.3L1104.8 641.5L1110.7 640.7L1116.5 636.0L1122.3 631.8L1128.2 627.6" stroke="#2962ff" stroke-width="1.7" stroke-linejoin="round" fill="none"/>
</g>
<text y="28.7" font-size="17.6" fill="#131722" stroke-width="0.4"><tspan x="14.21" textLength="100.33" lengthAdjust="spacingAndGlyphs" fill="#131722" stroke="#131722">CharlesThuo</tspan> <tspan x="119.21" textLength="62.08" lengthAdjust="spacingAndGlyphs" fill="#131722" stroke="#131722">created</tspan> <tspan x="186.71" textLength="35.88" lengthAdjust="spacingAndGlyphs" fill="#131722" stroke="#131722">with</tspan> <tspan x="229.01" textLength="137.28" lengthAdjust="spacingAndGlyphs" fill="#131722" stroke="#131722">TradingView.com,</tspan> <tspan x="375.21" textLength="28.38" lengthAdjust="spacingAndGlyphs" fill="#131722" stroke="#131722">Jun</tspan> <tspan x="411.01" textLength="22.48" lengthAdjust="spacingAndGlyphs" fill="#131722" stroke="#131722">30,</tspan> <tspan x="440.21" textLength="37.98" lengthAdjust="spacingAndGlyphs" fill="#131722" stroke="#131722">2025</tspan> <tspan x="484.11" textLength="43.88" lengthAdjust="spacingAndGlyphs" fill="#131722" stroke="#131722">12:26</tspan> <tspan x="533.91" textLength="49.28" lengthAdjust="spacingAndGlyphs" fill="#131722" stroke="#131722">UTC-4</tspan></text>
<text y="69.8" font-size="17.5" fill="#131722" stroke-width="0.4"><tspan x="26.71" textLength="30.47" lengthAdjust="spacingAndGlyphs" fill="#131722" stroke="#131722">SOL</tspan> <tspan x="64.67" fill="#131722" stroke="#131722">/</tspan> <tspan x="77.11" textLength="72.08" lengthAdjust="spacingAndGlyphs" fill="#131722" stroke="#131722">TetherUS</tspan> <tspan x="154.79" fill="#131722" stroke="#131722" stroke-width="1">·</tspan> <tspan x="167.31" textLength="20.38" lengthAdjust="spacingAndGlyphs" fill="#131722" stroke="#131722">1D</tspan> <tspan x="193.09" fill="#131722" stroke="#131722" stroke-width="1">·</tspan> <tspan x="205.31" textLength="68.87" lengthAdjust="spacingAndGlyphs" fill="#131722" stroke="#131722">BINANCE</tspan> <tspan x="284.51" textLength="13.07" lengthAdjust="spacingAndGlyphs" fill="#131722" stroke="#131722">O</tspan> <tspan x="299.31" textLength="51.77" lengthAdjust="spacingAndGlyphs" fill="#089981" stroke="#089981">153.32</tspan> <tspan x="361.21" textLength="12.38" lengthAdjust="spacingAndGlyphs" fill="#131722" stroke="#131722">H</tspan> <tspan x="374.01" textLength="53.47" lengthAdjust="spacingAndGlyphs" fill="#089981" stroke="#089981">159.99</tspan> <tspan x="438.41" textLength="9.07" lengthAdjust="spacingAndGlyphs" fill="#131722" stroke="#131722">L</tspan> <tspan x="447.21" textLength="53.68" lengthAdjust="spacingAndGlyphs" fill="#089981" stroke="#089981">149.45</tspan> <tspan x="511.61" textLength="11.07" lengthAdjust="spacingAndGlyphs" fill="#131722" stroke="#131722">C</tspan> <tspan x="523.61" textLength="51.78" lengthAdjust="spacingAndGlyphs" fill="#089981" stroke="#089981">157.51</tspan></text>
<text y="405" font-size="17.5" fill="#131722" stroke-width="0.4"><tspan x="26.41" textLength="24.48" lengthAdjust="spacingAndGlyphs" fill="#131722" stroke="#131722">RSI</tspan> <tspan x="57.61" textLength="29.97" lengthAdjust="spacingAndGlyphs" fill="#131722" stroke="#131722">(14,</tspan> <tspan x="93.51" textLength="47.58" lengthAdjust="spacingAndGlyphs" fill="#131722" stroke="#131722">close)</tspan> <tspan x="152.81" textLength="44.17" lengthAdjust="spacingAndGlyphs" fill="#7e57c2" stroke="#7e57c2">56.94</tspan> <tspan x="207.11" textLength="44.17" lengthAdjust="spacingAndGlyphs" fill="#fdd835" stroke="#fdd835">43.73</tspan></text>
<text y="572.7" font-size="17.5" fill="#131722" stroke-width="0.4"><tspan x="26.41" textLength="45.38" lengthAdjust="spacingAndGlyphs" fill="#131722" stroke="#131722">MACD</tspan> <tspan x="78.51" textLength="29.18" lengthAdjust="spacingAndGlyphs" fill="#131722" stroke="#131722">(12,</tspan> <tspan x="114.81" textLength="24.57" lengthAdjust="spacingAndGlyphs" fill="#131722" stroke="#131722">26,</tspan> <tspan x="145.81" textLength="47.88" lengthAdjust="spacingAndGlyphs" fill="#131722" stroke="#131722">close)</tspan> <tspan x="205.51" textLength="32.77" lengthAdjust="spacingAndGlyphs" fill="#26a69a" stroke="#26a69a">1.99</tspan> <tspan x="250.11" textLength="44.17" lengthAdjust="spacingAndGlyphs" fill="#2962ff" stroke="#2962ff">−1.66</tspan> <tspan x="305.21" textLength="44.97" lengthAdjust="spacingAndGlyphs" fill="#ff6d00" stroke="#ff6d00">−3.65</tspan></text>
<text y="202.7" font-size="14.3" fill="#717171" stroke-width="0.4"><tspan x="1090.06" textLength="31.39" lengthAdjust="spacingAndGlyphs" fill="#717171" stroke="#717171">$184</tspan> <tspan x="1126.16" textLength="42.39" lengthAdjust="spacingAndGlyphs" fill="#717171" stroke="#717171">Target</tspan></text>
<text y="241.3" font-size="14.3" fill="#717171" stroke-width="0.4"><tspan x="1136.26" textLength="31.49" lengthAdjust="spacingAndGlyphs" fill="#717171" stroke="#717171">$160</tspan> <tspan x="1172.46" textLength="68.09" lengthAdjust="spacingAndGlyphs" fill="#717171" stroke="#717171">restsiance</tspan></text>
<text y="301.3" font-size="14.3" fill="#717171" stroke-width="0.4"><tspan x="1153.76" textLength="43.19" lengthAdjust="spacingAndGlyphs" fill="#717171" stroke="#717171">Bullish</tspan> <tspan x="1200.86" textLength="26.79" lengthAdjust="spacingAndGlyphs" fill="#717171" stroke="#717171">flag</tspan></text>
<text y="315.6" font-size="14.3" fill="#717171" stroke-width="0.4"><tspan x="1153.76" textLength="59.49" lengthAdjust="spacingAndGlyphs" fill="#717171" stroke="#717171">breakout</tspan></text>
<text x="1258.5" y="128" font-size="18.2" fill="#131722" textLength="54.6" lengthAdjust="spacingAndGlyphs" stroke="#131722" stroke-width="0.4">240.00</text>
<g clip-path="url(#c200)">
<text x="1258.5" y="189.3" font-size="18.2" fill="#131722" textLength="54.6" lengthAdjust="spacingAndGlyphs" stroke="#131722" stroke-width="0.4">200.00</text>
</g>
<text x="1258.5" y="312.3" font-size="18.2" fill="#131722" textLength="54.6" lengthAdjust="spacingAndGlyphs" stroke="#131722" stroke-width="0.4">120.00</text>
<text x="1258.5" y="373.6" font-size="18.2" fill="#131722" textLength="44.67" lengthAdjust="spacingAndGlyphs" stroke="#131722" stroke-width="0.4">80.00</text>
<text x="1258.5" y="401.9" font-size="18.2" fill="#131722" textLength="44.67" lengthAdjust="spacingAndGlyphs" stroke="#131722" stroke-width="0.4">75.00</text>
<text x="1258.5" y="505.5" font-size="18.2" fill="#131722" textLength="44.67" lengthAdjust="spacingAndGlyphs" stroke="#131722" stroke-width="0.4">25.00</text>
<text x="1258.9" y="711.2" font-size="18.2" fill="#131722" textLength="54.2" lengthAdjust="spacingAndGlyphs" stroke="#131722" stroke-width="0.4">−20.00</text>
<rect x="1251" y="47" width="68" height="38.5" rx="5" fill="#fff" stroke="#f0f1f3" stroke-width="1.3"/>
<text x="1264.6" y="71.9" font-size="17.6" fill="#131722" textLength="40.6" lengthAdjust="spacingAndGlyphs" stroke="#131722" stroke-width="0.4">USDT</text>
<rect x="1246" y="184" width="73.6" height="51" rx="2" fill="#c8e6c9"/>
<text x="1258.5" y="203.8" font-size="18.2" fill="#131722" textLength="54.6" lengthAdjust="spacingAndGlyphs" stroke="#131722" stroke-width="0.4">184.00</text>
<text x="1258.5" y="228.7" font-size="18.2" fill="#131722" textLength="54.6" lengthAdjust="spacingAndGlyphs" stroke="#131722" stroke-width="0.4">160.00</text>
<path d="M1246 235h71.6a2 2 0 0 1 2 2v22.8a2 2 0 0 1-2 2h-71.6z" fill="#089981"/>
<text x="1258.5" y="255.1" font-size="18.2" fill="#fff" textLength="54.6" lengthAdjust="spacingAndGlyphs" stroke="#fff" stroke-width="0.6">157.51</text>
<path d="M1246 420h62.8a2 2 0 0 1 2 2v25h-64.8z" fill="#7e57c2"/>
<text x="1258.5" y="440.1" font-size="18.2" fill="#fff" textLength="44.67" lengthAdjust="spacingAndGlyphs" stroke="#fff" stroke-width="0.6">56.94</text>
<path d="M1246 447h64.8v24a2 2 0 0 1-2 2h-62.8z" fill="#fdd835"/>
<text x="1258.5" y="466.9" font-size="18.2" fill="#131722" textLength="44.67" lengthAdjust="spacingAndGlyphs" stroke="#131722" stroke-width="0.4">43.73</text>
<path d="M1246 600h53.8a2 2 0 0 1 2 2v23h-55.8z" fill="#26a69a"/>
<text x="1259.2" y="619.7" font-size="18.2" fill="#fff" textLength="34.74" lengthAdjust="spacingAndGlyphs" stroke="#fff" stroke-width="0.6">1.99</text>
<path d="M1246 625h62.8a2 2 0 0 1 2 2v24.3h-64.8z" fill="#2962ff"/>
<text x="1258.9" y="644.7" font-size="18.2" fill="#fff" textLength="44.4" lengthAdjust="spacingAndGlyphs" stroke="#fff" stroke-width="0.6">−1.66</text>
<path d="M1246 651.3h64.8v24.4a2 2 0 0 1-2 2h-62.8z" fill="#ff6d00"/>
<text x="1258.9" y="671" font-size="18.2" fill="#fff" textLength="44.2" lengthAdjust="spacingAndGlyphs" stroke="#fff" stroke-width="0.6">−3.65</text>
<text x="79.5" y="738.9" font-size="17.8" fill="#131722" font-weight="bold" text-anchor="middle" stroke="none">2025</text>
<text x="260.5" y="738.9" font-size="17.8" fill="#131722" text-anchor="middle" stroke="#131722" stroke-width="0.4">Feb</text>
<text x="423.5" y="738.9" font-size="17.8" fill="#131722" text-anchor="middle" stroke="#131722" stroke-width="0.4">Mar</text>
<text x="604.5" y="738.9" font-size="17.8" fill="#131722" text-anchor="middle" stroke="#131722" stroke-width="0.4">Apr</text>
<text x="779.5" y="738.9" font-size="17.8" fill="#131722" text-anchor="middle" stroke="#131722" stroke-width="0.4">May</text>
<text x="959.5" y="738.9" font-size="17.8" fill="#131722" text-anchor="middle" stroke="#131722" stroke-width="0.4">Jun</text>
<text x="1134.5" y="738.9" font-size="17.8" fill="#131722" text-anchor="middle" stroke="#131722" stroke-width="0.4">Jul</text>
<g transform="translate(15,767.9) scale(0.82)" fill="#131722"><path d="M14 22H7V11H0V4h14v18z"/><circle cx="20" cy="8" r="4"/><path d="M28 22h-8l7.5-18h8L28 22z"/></g>
<text x="49.3" y="786.6" font-size="18.4" fill="#131722" textLength="106.5" lengthAdjust="spacingAndGlyphs" stroke="#131722" stroke-width="0.15">TradingView</text>
</svg>
</body></html>
